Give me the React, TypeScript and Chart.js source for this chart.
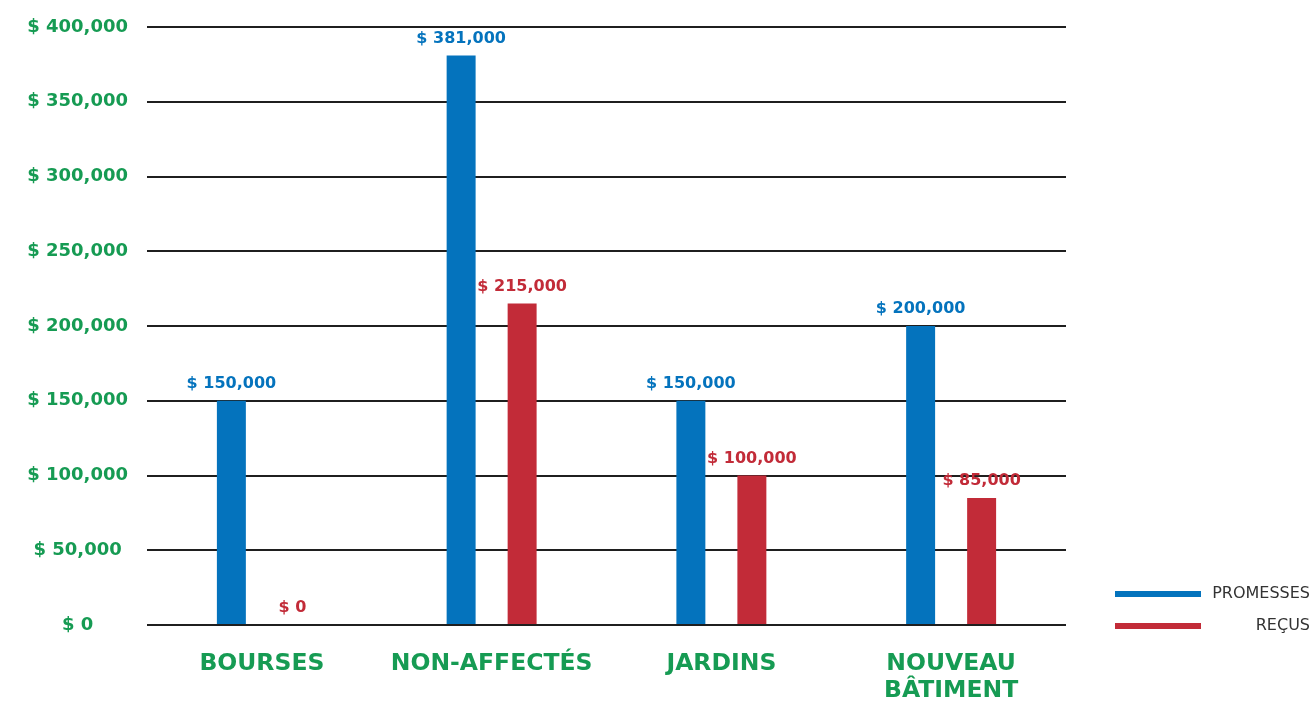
import React, { useEffect, useRef } from "react";
import { Chart, registerables } from "chart.js";

Chart.register(...registerables);

const categories: (string | string[])[] = ["BOURSES", "NON-AFFECTÉS", "JARDINS", ["NOUVEAU", "BÂTIMENT"]];
const promesses = [150000, 381000, 150000, 200000];
const recus = [0, 215000, 100000, 85000];
const seriesNames = ["PROMESSES", "REÇUS"];
const yTicks = { min: 0, max: 400000, step: 50000 };

const BLUE = "#0473bd";
const RED = "#c22b38";
const GREEN = "#169b53";
const FONT = "'DejaVu Sans', Verdana, sans-serif";

const fmt = (v: number) => "$ " + v.toLocaleString("en-US");

const valueLabels = {
  id: "valueLabels",
  afterDatasetsDraw(chart: any) {
    const ctx = chart.ctx;
    ctx.save();
    ctx.font = `bold 16px ${FONT}`;
    ctx.textAlign = "center";
    ctx.textBaseline = "middle";
    chart.data.datasets.forEach((ds: any, i: number) => {
      const meta = chart.getDatasetMeta(i);
      ctx.fillStyle = ds.backgroundColor;
      meta.data.forEach((el: any, j: number) => {
        ctx.fillText(fmt(ds.data[j]), el.x, el.y - 17);
      });
    });
    ctx.restore();
  },
};

const sideLegend = {
  id: "sideLegend",
  afterDraw(chart: any) {
    const ctx = chart.ctx;
    ctx.save();
    const rows = [594, 626];
    chart.data.datasets.forEach((ds: any, i: number) => {
      const y = rows[i];
      ctx.fillStyle = ds.backgroundColor;
      ctx.fillRect(1115, y - 3, 86, 6);
      ctx.fillStyle = "#333333";
      ctx.font = `16px ${FONT}`;
      ctx.textAlign = "right";
      ctx.textBaseline = "middle";
      ctx.fillText(ds.label, 1310, y);
    });
    ctx.restore();
  },
};

export default function App() {
  const ref = useRef<HTMLCanvasElement>(null);
  useEffect(() => {
    if (!ref.current) return;
    const chart = new Chart(ref.current, {
      type: "bar",
      data: {
        labels: categories,
        datasets: [
          { label: seriesNames[0], data: promesses, backgroundColor: BLUE },
          { label: seriesNames[1], data: recus, backgroundColor: RED },
        ],
      },
      options: {
        animation: false,
        responsive: false,
        layout: { padding: { top: 27, right: 250, left: 0, bottom: 0 } },
        datasets: {
          bar: { categoryPercentage: 0.531, barPercentage: 0.475 },
        },
        plugins: { legend: { display: false }, tooltip: { enabled: false } },
        scales: {
          x: {
            grid: { display: false },
            border: { display: false },
            ticks: {
              color: GREEN,
              font: { family: FONT, size: 23.5, weight: "bold", lineHeight: 1.15 },
              padding: 17,
              maxRotation: 0,
              autoSkip: false,
            },
            afterFit(s: any) {
              s.height = 80;
              s.paddingLeft = 0;
              s.paddingRight = 0;
            },
          },
          y: {
            min: yTicks.min,
            max: yTicks.max,
            grid: { color: "#1f1f1f", lineWidth: 2, drawTicks: false },
            border: { display: false },
            ticks: {
              stepSize: yTicks.step,
              color: GREEN,
              crossAlign: "center",
              padding: 19,
              font: { family: FONT, size: 18, weight: "bold" },
              callback: (v: any) => fmt(Number(v)),
            },
            afterFit(s: any) {
              s.width = 147;
              s.paddingTop = 0;
              s.paddingBottom = 0;
            },
          },
        },
      },
      plugins: [valueLabels, sideLegend],
    } as any);
    return () => chart.destroy();
  }, []);
  return (
    <div style={{ position: "absolute", left: 0, top: 0, width: 1316, height: 705, background: "#fff" }}>
      <canvas ref={ref} width={1316} height={705} />
    </div>
  );
}
